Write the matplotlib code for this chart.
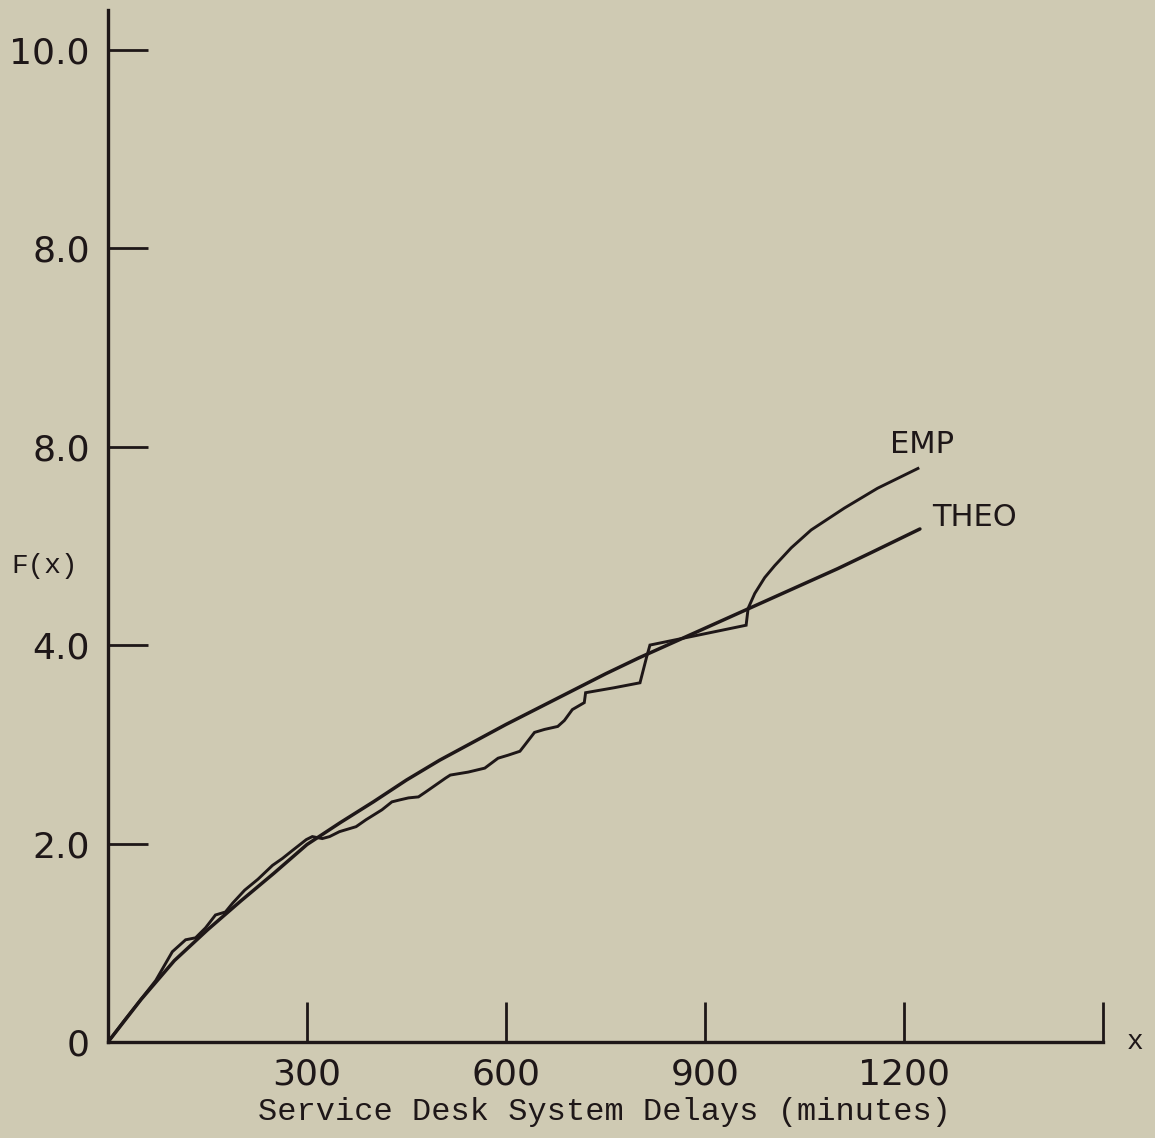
import matplotlib
matplotlib.use("Agg")
import matplotlib.pyplot as plt

# ---- data ----
theo_x = [0, 50, 100, 150, 200, 250, 300, 350, 400, 450, 500, 550, 600, 650, 700,
          750, 800, 850, 900, 950, 1000, 1050, 1100, 1150, 1224]
theo_y = [0, 0.43, 0.82, 1.13, 1.42, 1.70, 1.99, 2.21, 2.42, 2.64, 2.84, 3.02, 3.20,
          3.37, 3.54, 3.71, 3.87, 4.02, 4.17, 4.32, 4.47, 4.62, 4.77, 4.93, 5.17]

emp_x = [0, 25, 52, 72, 97, 117, 132, 147, 162, 177, 188, 206, 226, 248, 263, 278,
         299, 308, 323, 334, 349, 359, 374, 389, 401, 413, 428, 440, 453, 468, 479,
         494, 509, 516, 543, 568, 588, 603, 621, 628, 643, 658, 678, 688, 700, 718,
         720, 763, 802, 812, 817, 962, 965, 975, 990, 1005, 1030, 1060, 1110, 1160, 1221]
emp_y = [0, 0.22, 0.45, 0.62, 0.91, 1.03, 1.05, 1.15, 1.28, 1.31, 1.40, 1.53, 1.64,
         1.78, 1.85, 1.93, 2.04, 2.07, 2.05, 2.07, 2.12, 2.14, 2.17, 2.24, 2.29, 2.34,
         2.42, 2.44, 2.46, 2.47, 2.52, 2.59, 2.66, 2.69, 2.72, 2.76, 2.86, 2.89, 2.93,
         2.99, 3.12, 3.15, 3.18, 3.24, 3.35, 3.42, 3.52, 3.57, 3.62, 3.88, 4.00, 4.20,
         4.37, 4.52, 4.68, 4.80, 4.98, 5.16, 5.38, 5.58, 5.78]

xtick_vals = [300, 600, 900, 1200, 1500]
xtick_labels = ["300", "600", "900", "1200", ""]
ytick_vals = [0, 2, 4, 6, 8, 10]
ytick_labels = ["0", "2.0", "4.0", "8.0", "8.0", "10.0"]

series_labels = ["EMP", "THEO"]
x_label = "Service Desk System Delays (minutes)"
y_label = "F(x)"

# ---- style ----
bg = "#cfcab3"
ink = "#1e1718"

fig = plt.figure(figsize=(11.55, 11.38), dpi=100, facecolor=bg)
ax = fig.add_axes([108 / 1155, 96 / 1138, 995 / 1155, 1032 / 1138])
ax.set_facecolor(bg)

ax.plot(theo_x, theo_y, color=ink, lw=2.5, solid_capstyle="round")
ax.plot(emp_x, emp_y, color=ink, lw=2.1, solid_joinstyle="miter")

ax.set_xlim(0, 1500)
ax.set_ylim(0, 10.4)

for s in ["top", "right"]:
    ax.spines[s].set_visible(False)
for s in ["left", "bottom"]:
    ax.spines[s].set_color(ink)
    ax.spines[s].set_linewidth(2.4)

tickfont = dict(family="DejaVu Sans", size=26, color=ink)
ax.set_xticks(xtick_vals)
ax.set_xticklabels(xtick_labels, **tickfont)
ax.set_yticks(ytick_vals)
ax.set_yticklabels(ytick_labels, **tickfont)
ax.tick_params(axis="both", direction="in", length=29, width=2.0, color=ink)
ax.tick_params(axis="x", pad=11)
ax.tick_params(axis="y", pad=13)

ax.text(749, -0.71, x_label, ha="center", va="center",
        family="Liberation Mono", fontsize=23, color=ink)
ax.text(-0.064, 4.8 / 10.4, y_label, transform=ax.transAxes, ha="center",
        va="center", family="Liberation Mono", fontsize=20, color=ink)
ax.text(1.032, 0.0, "x", transform=ax.transAxes, ha="center", va="center",
        family="Liberation Mono", fontsize=20, color=ink)

ax.text(1227, 6.02, series_labels[0], ha="center", va="center", family="DejaVu Sans",
        fontsize=22, color=ink)
ax.text(1307, 5.29, series_labels[1], ha="center", va="center", family="DejaVu Sans",
        fontsize=22, color=ink)

fig.savefig("out.png", dpi=100, facecolor=bg)
